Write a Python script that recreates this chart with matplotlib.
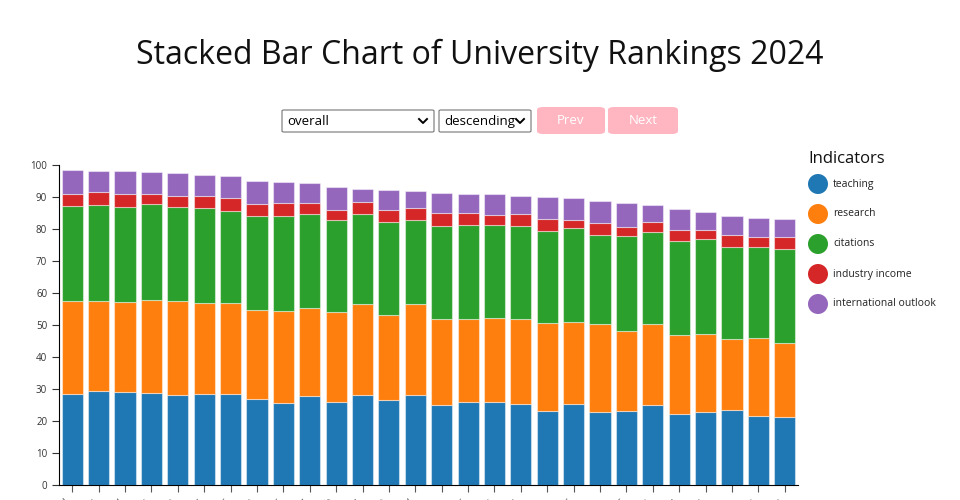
import matplotlib
matplotlib.use("Agg")
import matplotlib.pyplot as plt
from matplotlib.patches import FancyBboxPatch, Ellipse
from matplotlib.lines import Line2D
import numpy as np

plt.rcParams['font.family'] = ['Open Sans', 'DejaVu Sans']

universities = [
    "University of Oxford", "Stanford University", "Massachusetts Institute of Technology",
    "Harvard University", "University of Cambridge", "Princeton University",
    "California Institute of Technology", "Imperial College London",
    "University of California, Berkeley", "Yale University", "ETH Zurich",
    "Tsinghua University", "The University of Chicago", "Peking University",
    "University of Pennsylvania", "Johns Hopkins University", "Columbia University",
    "University of California, Los Angeles", "National University of Singapore",
    "Cornell University", "UCL", "University of Michigan-Ann Arbor",
    "University of Toronto", "Carnegie Mellon University", "Duke University",
    "University of Washington", "New York University", "Northwestern University",
]

indicators = ["teaching", "research", "citations", "industry income", "international outlook"]
colors = ["#1f77b4", "#ff7f0e", "#2ca02c", "#d62728", "#9467bd"]

# cumulative tops, converted to segment values below
tops_teaching = [28.5, 29.3, 29.2, 28.9, 28.2, 28.4, 28.5, 26.8, 25.7, 27.7, 25.8, 28.1, 26.5, 28.2,
                 24.9, 25.8, 26.0, 25.3, 23.2, 25.2, 22.9, 23.1, 25.0, 22.2, 22.9, 23.4, 21.6, 21.4]
tops_research = [57.5, 57.6, 57.1, 57.8, 57.4, 56.9, 57.0, 54.6, 54.4, 55.3, 54.0, 56.6, 53.0, 56.5,
                 51.8, 51.9, 52.2, 51.9, 50.5, 51.0, 50.2, 48.2, 50.3, 46.8, 47.3, 45.5, 45.9, 44.3]
tops_citations = [87.3, 87.5, 87.0, 87.7, 86.8, 86.5, 85.7, 84.2, 84.2, 84.6, 82.7, 84.6, 82.3, 82.7,
                  80.8, 81.1, 81.4, 80.8, 79.3, 80.3, 78.0, 77.8, 79.0, 76.4, 76.8, 74.3, 74.5, 73.6]
tops_industry = [91.0, 91.5, 90.9, 91.0, 90.2, 90.2, 89.8, 87.7, 88.0, 88.0, 85.9, 88.5, 85.9, 86.6,
                 84.9, 85.1, 84.5, 84.6, 83.1, 82.9, 81.8, 80.7, 82.2, 79.8, 79.8, 78.2, 77.4, 77.6]
overall = [98.4, 98.0, 98.0, 97.8, 97.5, 97.0, 96.6, 95.1, 94.6, 94.3, 93.1, 92.4, 92.2, 91.8,
           91.1, 91.0, 90.9, 90.2, 90.0, 89.6, 88.6, 88.1, 87.4, 86.3, 85.3, 84.0, 83.5, 83.2]

cum = np.array([tops_teaching, tops_research, tops_citations, tops_industry, overall])
values = np.diff(np.vstack([np.zeros(len(overall)), cum]), axis=0)

W, H = 960, 500
fig = plt.figure(figsize=(W / 100, H / 100), dpi=100)


def fx(x):
    return x / W


def fy(y):
    return 1 - y / H


ax = fig.add_axes([fx(59), fy(485), (798 - 59) / W, (485 - 165) / H])
x = np.arange(len(universities))
bottom = np.zeros(len(universities))
for i, name in enumerate(indicators):
    ax.bar(x, values[i], 0.8, bottom=bottom, color=colors[i],
           edgecolor=(1, 1, 1, 0.45), linewidth=0.8, label=name)
    bottom += values[i]

ax.set_xlim(-0.5, len(universities) - 0.5)
ax.set_ylim(0, 100)
ax.set_yticks(range(0, 101, 10))
ax.set_xticks(x)
ax.set_xticklabels(universities, rotation=45, ha='right', fontsize=7.5, color='#333333')
ax.tick_params(axis='y', labelsize=7, colors='#333333', length=5, width=0.8)
ax.tick_params(axis='x', length=5, width=0.8, colors='#555555')
ax.spines['top'].set_visible(False)
ax.spines['right'].set_visible(False)
ax.spines['left'].set_color('black')
ax.spines['bottom'].set_color('black')

fig.text(0.5, fy(55), "Stacked Bar Chart of University Rankings 2024",
         ha='center', va='center', fontsize=23, color='#111111')

# fake controls above the chart
def select_box(x0, x1, label):
    fig.patches.append(FancyBboxPatch((fx(x0), fy(132)), fx(x1 - x0), (132 - 110) / H,
                                      boxstyle="round,pad=0,rounding_size=0.002",
                                      transform=fig.transFigure, facecolor='white',
                                      edgecolor='#767676', linewidth=0.8))
    fig.text(fx(x0 + 5), fy(121.5), label, ha='left', va='center', fontsize=9.5, color='black')
    cx = x1 - 11
    fig.add_artist(Line2D([fx(cx - 4), fx(cx), fx(cx + 4)], [fy(119), fy(123), fy(119)],
                          transform=fig.transFigure, color='black', linewidth=1.4))


def button(x0, x1, label):
    fig.patches.append(FancyBboxPatch((fx(x0), fy(134)), fx(x1 - x0), (134 - 107) / H,
                                      boxstyle="round,pad=0,rounding_size=0.006",
                                      transform=fig.transFigure, facecolor='#ffb6c1',
                                      edgecolor='none'))
    fig.text(fx((x0 + x1) / 2), fy(121), label, ha='center', va='center',
             fontsize=9.5, color='white')


select_box(282, 434, "overall")
select_box(439, 531, "descending")
button(537, 605, "Prev")
button(608, 678, "Next")

# legend
fig.text(fx(808), fy(159), "Indicators", ha='left', va='center', fontsize=12, color='#111111')
for i, name in enumerate(indicators):
    yy = 184 + 30 * i
    fig.patches.append(Ellipse((fx(818), fy(yy)), 20 / W, 20 / H,
                               transform=fig.transFigure, facecolor=colors[i], edgecolor='none'))
    fig.text(fx(833), fy(yy), name, ha='left', va='center', fontsize=7.5, color='#222222')

fig.savefig("out.png", dpi=100)
